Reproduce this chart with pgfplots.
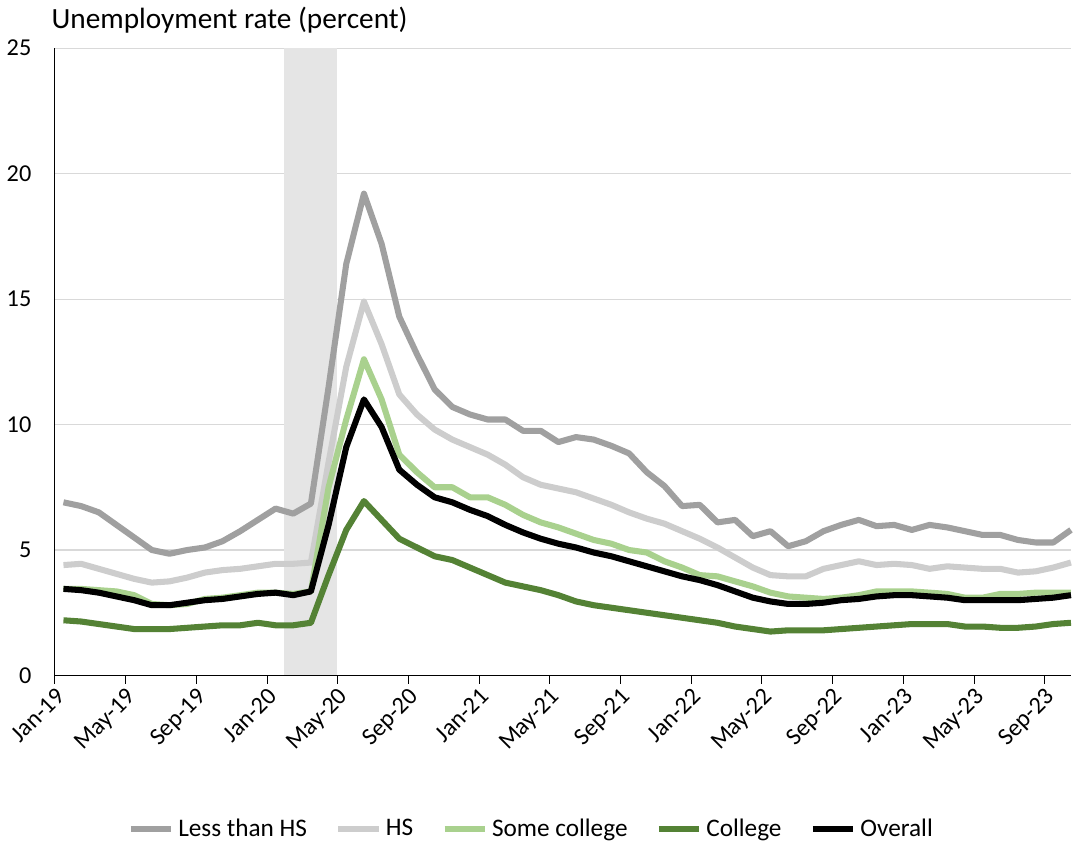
\documentclass[border=0pt]{standalone}
\usepackage{fontspec}
\setmainfont{Carlito}
\usepackage{pgfplots}
\pgfplotsset{compat=1.18}
\definecolor{lhs}{RGB}{160,160,160}
\definecolor{hs}{RGB}{205,205,205}
\definecolor{sc}{RGB}{169,209,142}
\definecolor{col}{RGB}{84,130,53}
\begin{document}
\begin{tikzpicture}
\begin{axis}[
  scale only axis, width=503pt, height=310.5pt,
  xmin=0, xmax=57.5, ymin=0, ymax=25,
  axis lines*=left, axis line style={black, line width=0.6pt},
  ytick={0,5,...,25}, ymajorgrids, grid style={gray!30, line width=0.5pt},
  xtick={0,4,...,56},
  xticklabels={Jan-19,May-19,Sep-19,Jan-20,May-20,Sep-20,Jan-21,May-21,Sep-21,Jan-22,May-22,Sep-22,Jan-23,May-23,Sep-23},
  x tick label style={rotate=45, anchor=north east, font=\fontsize{12}{14}\selectfont, inner sep=1pt},
  y tick label style={font=\fontsize{12}{14}\selectfont, xshift=-4pt},
  /pgf/number format/assume math mode=true,
  xtick style={black}, ytick style={draw=none},
  tick align=outside, major tick length=4pt,
  title={Unemployment rate (percent)}, title style={at={(0,1)}, anchor=south west, xshift=-5pt, yshift=-2pt, font=\fontsize{14.5}{17}\selectfont},
  legend style={at={(0.47,-0.215)}, anchor=north, draw=none, font=\fontsize{12.5}{15}\selectfont, /tikz/every even column/.append style={column sep=12pt}},
  legend columns=5,
  legend image code/.code={\draw[#1, line width=3pt] (0pt,0pt) -- (20pt,0pt);},
  clip=false,
  every axis plot/.append style={line width=3pt, line join=round},
]
\fill[gray!20] (axis cs:13,0) rectangle (axis cs:16,25);
\addplot[lhs] table[x expr=\coordindex+0.5, y index=0] {
6.9
6.75
6.5
6.0
5.5
5.0
4.85
5.0
5.1
5.35
5.75
6.2
6.65
6.45
6.85
11.5
16.4
19.2
17.2
14.3
12.8
11.4
10.7
10.4
10.2
10.2
9.75
9.75
9.3
9.5
9.4
9.15
8.85
8.1
7.55
6.75
6.8
6.1
6.2
5.55
5.75
5.15
5.35
5.75
6.0
6.2
5.95
6.0
5.8
6.0
5.9
5.75
5.6
5.6
5.4
5.3
5.3
5.8
};
\addlegendentry{Less than HS}
\addplot[hs] table[x expr=\coordindex+0.5, y index=0] {
4.4
4.45
4.25
4.05
3.85
3.7
3.75
3.9
4.1
4.2
4.25
4.35
4.45
4.45
4.5
8.5
12.3
14.9
13.2
11.2
10.4
9.8
9.4
9.1
8.8
8.4
7.9
7.6
7.45
7.3
7.05
6.8
6.5
6.25
6.05
5.75
5.45
5.1
4.7
4.3
4.0
3.95
3.95
4.25
4.4
4.55
4.4
4.45
4.4
4.25
4.35
4.3
4.25
4.25
4.1
4.15
4.3
4.5
};
\addlegendentry{HS}
\addplot[sc] table[x expr=\coordindex+0.5, y index=0] {
3.45
3.45
3.4
3.35
3.2
2.85
2.8
2.85
3.05
3.1
3.2
3.3
3.3
3.25
3.35
7.5
10.2
12.6
11.0
8.8
8.1
7.5
7.5
7.1
7.1
6.8
6.4
6.1
5.9
5.65
5.4
5.25
5.0
4.9
4.55
4.3
4.0
3.95
3.75
3.55
3.3
3.15
3.1
3.05
3.1
3.2
3.35
3.35
3.35
3.3
3.25
3.1
3.1
3.25
3.25
3.3
3.3
3.3
};
\addlegendentry{Some college}
\addplot[col] table[x expr=\coordindex+0.5, y index=0] {
2.2
2.15
2.05
1.95
1.85
1.85
1.85
1.9
1.95
2.0
2.0
2.1
2.0
2.0
2.1
4.0
5.8
6.95
6.2
5.45
5.1
4.75
4.6
4.3
4.0
3.7
3.55
3.4
3.2
2.95
2.8
2.7
2.6
2.5
2.4
2.3
2.2
2.1
1.95
1.85
1.75
1.8
1.8
1.8
1.85
1.9
1.95
2.0
2.05
2.05
2.05
1.95
1.95
1.9
1.9
1.95
2.05
2.1
};
\addlegendentry{College}
\addplot[black] table[x expr=\coordindex+0.5, y index=0] {
3.45
3.4
3.3
3.15
3.0
2.8
2.8
2.9
3.0
3.05
3.15
3.25
3.3
3.2
3.35
6.0
9.1
11.0
9.9
8.2
7.6
7.1
6.9
6.6
6.35
6.0
5.7
5.45
5.25
5.1
4.9
4.75
4.55
4.35
4.15
3.95
3.8
3.6
3.35
3.1
2.95
2.85
2.85
2.9
3.0
3.05
3.15
3.2
3.2
3.15
3.1
3.0
3.0
3.0
3.0
3.05
3.1
3.2
};
\addlegendentry{Overall}
\end{axis}
\end{tikzpicture}
\end{document}
